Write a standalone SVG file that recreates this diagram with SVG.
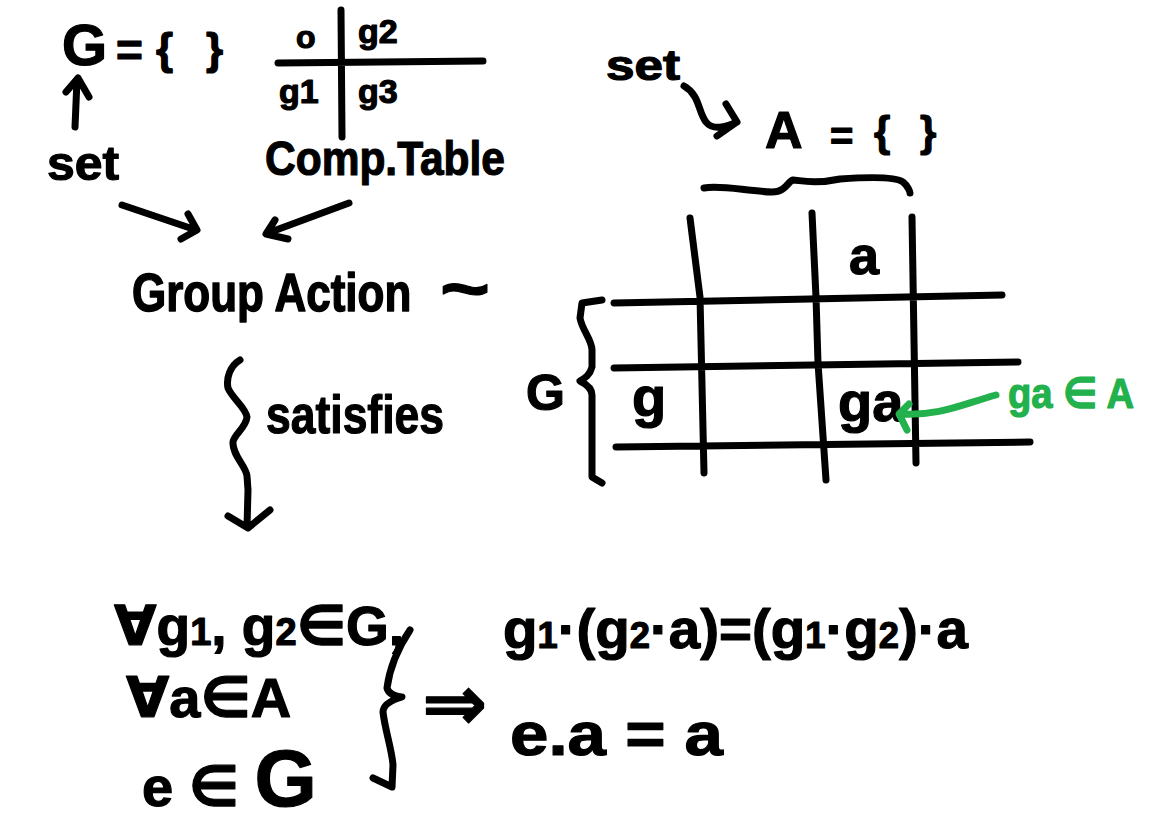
<svg xmlns="http://www.w3.org/2000/svg" width="1156" height="832" viewBox="0 0 1156 832">
<style>
.t{font-family:"Liberation Sans","DejaVu Sans",sans-serif;font-weight:bold;fill:#000;stroke:#000;stroke-width:1.2;stroke-linejoin:round}
.g{fill:#22b14c;stroke:#22b14c}
.s{fill:none;stroke:#000;stroke-width:7;stroke-linecap:round;stroke-linejoin:round}
.sg{fill:none;stroke:#22b14c;stroke-width:7;stroke-linecap:round;stroke-linejoin:round}
</style>
<rect width="1156" height="832" fill="#fff"/>
<g id="setG">
<text class="t" x="62" y="65" font-size="58">G</text>
<text class="t" x="116" y="66" font-size="46">=</text>
<text class="t" x="156" y="64" font-size="44">{</text>
<text class="t" x="206" y="64" font-size="44">}</text>
</g>
<g id="compTable">
<text class="t" x="296" y="48" font-size="32">o</text>
<text class="t" x="358" y="43" font-size="34">g2</text>
<text class="t" x="279" y="103" font-size="34">g1</text>
<text class="t" x="358" y="103" font-size="34">g3</text>
<path class="s" d="M278,63 L483,61 M341,10 L342,137"/>
</g>
<g id="setLabel"><text class="t" x="47" y="180" font-size="48" textLength="72" lengthAdjust="spacingAndGlyphs">set</text></g>
<g id="compLabel"><text class="t" x="265" y="175" font-size="48" textLength="240" lengthAdjust="spacingAndGlyphs">Comp.Table</text></g>
<g id="groupAction">
<text class="t" transform="translate(132,311) scale(1,1.2)" font-size="44">Group Action</text>
<text class="t" x="440" y="313" font-size="72" textLength="50" lengthAdjust="spacingAndGlyphs">~</text>
</g>
<g id="satisfies"><text class="t" x="266" y="433" font-size="54" textLength="178" lengthAdjust="spacingAndGlyphs">satisfies</text></g>
<g id="setA">
<text class="t" x="606" y="80" font-size="42" textLength="74" lengthAdjust="spacingAndGlyphs">set</text>
</g>
<g id="A">
<text class="t" x="765" y="148" font-size="52">A</text>
<text class="t" x="830" y="150" font-size="40">=</text>
<text class="t" x="874" y="146" font-size="42">{</text>
<text class="t" x="920" y="146" font-size="42">}</text>
</g>
<g id="grid">
<path class="s" d="M704,188 C722,185 745,191 772,192 C786,192 788,181 793,180 C800,180 812,185 840,179 C868,177 896,177 903,182 C908,186 910,192 910,193"/>
<path class="s" d="M690,218 L700,297 L704,473 M812,213 L816,297 L818,363 L826,480 M912,217 L916,463 M614,303 L1002,295 M614,368 L1018,362 M616,447 L1030,442"/>
<path class="s" d="M602,300 L582,303 L580,318 C582,330 592,340 592,350 L592,367 C590,375 585,378 580,381 C586,384 592,388 592,395 L592,477 L602,483"/>
<text class="t" x="526" y="410" font-size="50">G</text>
<text class="t" x="849" y="274" font-size="54">a</text>
<text class="t" x="632" y="416" font-size="56">g</text>
<text class="t" x="838" y="421" font-size="56">ga</text>
</g>
<g id="gaInA"><text class="t g" x="1008" y="408" font-size="42" textLength="126" lengthAdjust="spacingAndGlyphs">ga ∈ A</text></g>
<g id="conditions">
<text class="t" x="114" y="645" font-size="55">∀g<tspan font-size="38">1</tspan>, g<tspan font-size="38">2</tspan>∈G,</text>
<text class="t" x="126" y="717" font-size="56">∀a∈A</text>
<text class="t" x="142" y="806" font-size="56">e ∈ <tspan font-size="80">G</tspan></text>
<path class="s" d="M410,630 C400,645 390,665 387,688 C388,693 395,697 402,697 C392,700 383,705 383,712 C385,730 392,750 393,765 L392,787 L373,778"/>
</g>
<g id="implies"><text class="t" x="422" y="730" font-size="78">⇒</text></g>
<g id="axioms">
<text class="t" x="503" y="648" font-size="56" textLength="465" lengthAdjust="spacingAndGlyphs">g<tspan font-size="36">1</tspan>·(g<tspan font-size="36">2</tspan>·a)=(g<tspan font-size="36">1</tspan>·g<tspan font-size="36">2</tspan>)·a</text>
<text class="t" x="510" y="755" font-size="62" textLength="213" lengthAdjust="spacingAndGlyphs">e.a = a</text>
</g>
<g id="connectors">
<path class="s" d="M75,127 L77,80 M66,92 L78,78 L89,97"/>
<path class="s" d="M122,205 L196,230 M188,214 L197,230 L181,239"/>
<path class="s" d="M349,203 L268,233 M275,220 L266,234 L288,239"/>
<path class="s" d="M684,86 C700,95 698,112 706,122 C712,130 725,128 737,122 M726,104 L737,122 L717,136"/>
<path class="s" d="M240,360 C230,366 226,378 228,388 C232,398 246,408 247,417 C246,428 234,434 233,442 C232,455 246,466 247,476 L248,490 L247,527 M228,516 L248,528 L270,510"/>
<path class="sg" d="M996,395 C960,405 940,416 900,414 M909,404 L899,414 L907,430"/>
</g>
</svg>
